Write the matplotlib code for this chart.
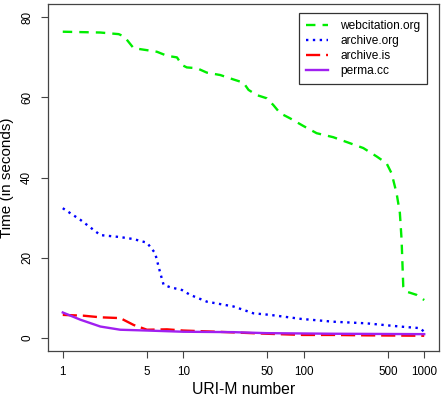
import matplotlib
matplotlib.use("Agg")
import matplotlib.pyplot as plt
import numpy as np

plt.rcParams['font.family'] = ['Liberation Sans', 'DejaVu Sans']

# URI-M number vs time (seconds)
web_x = [1, 2.05, 2.91, 3.24, 3.87, 5.0, 6.05, 7.33, 8.87, 9.76, 10.7, 13, 15.7, 20.3,
         26.1, 31.6, 34.8, 40.8, 49.4, 56, 63.6, 77.1, 99.3, 128, 176, 242, 312, 403,
         487, 536, 590, 628, 649, 670, 713, 863, 1000]
web_y = [76.4, 76.2, 75.8, 75.2, 72.3, 71.8, 71.4, 70.4, 70.0, 68.1, 67.5, 67.3, 66.2, 65.6,
         64.5, 63.7, 61.9, 60.6, 59.8, 58.1, 56.1, 54.8, 52.9, 51.1, 50.1, 48.6, 47.4, 45.3,
         43.6, 41.1, 36.1, 31.2, 24.5, 12.9, 11.6, 10.8, 9.5]

ia_x = [1, 1.40, 2.05, 3.0, 3.87, 5.0, 5.84, 6.45, 6.87, 7.78, 9.76, 11.4, 15.7, 26.1,
        38.2, 52.7, 95.1, 176, 331, 628, 920, 1000]
ia_y = [32.4, 29.5, 25.7, 25.2, 24.7, 23.8, 21.2, 16.2, 13.3, 12.7, 12.0, 10.8, 9.1, 7.9,
        6.2, 5.8, 4.8, 4.1, 3.7, 2.9, 2.5, 1.6]

ais_x = [1, 1.49, 2.05, 3.0, 3.87, 5.0, 7.33, 10, 19, 49.4, 99, 176, 331, 1000]
ais_y = [5.8, 5.6, 5.2, 5.0, 3.3, 2.1, 2.2, 1.9, 1.6, 1.1, 0.8, 0.8, 0.7, 0.6]

perma_x = [1, 1.40, 2.05, 3.0, 5, 10, 26, 49, 176, 1000]
perma_y = [6.4, 4.6, 2.9, 2.1, 1.9, 1.6, 1.5, 1.25, 1.1, 1.0]

xticks = [1, 5, 10, 50, 100, 500, 1000]
yticks = [0, 20, 40, 60, 80]

fig = plt.figure(figsize=(4.44, 4.04), dpi=100)
ax = fig.add_axes([0.1088, 0.1312, 0.8792, 0.8588])

lw = 1.7
ax.plot(web_x, web_y, color='#00ee00', lw=lw, dashes=(4, 3), label='webcitation.org')
ax.plot(ia_x, ia_y, color='blue', lw=lw, dashes=(1, 1.9), label='archive.org')
ax.plot(ais_x, ais_y, color='red', lw=lw, dashes=(6, 2.5), label='archive.is')
ax.plot(perma_x, perma_y, color='#a020f0', lw=lw, label='perma.cc')

ax.set_xscale('log')
span = np.log10(1000)
ax.set_xlim(10 ** (-0.04 * span), 10 ** (span * 1.04))
ax.set_ylim(-3.2, 83.3)
ax.set_xticks(xticks)
ax.set_xticklabels([str(t) for t in xticks])
ax.xaxis.set_minor_locator(matplotlib.ticker.NullLocator())
ax.set_yticks(yticks)
ax.tick_params(axis='both', labelsize=8.4, length=5, width=0.8, color='#444444')
ax.tick_params(axis='x', pad=6)
ax.tick_params(axis='y', labelrotation=90, pad=6)
for lab in ax.get_yticklabels():
    lab.set_va('center')

for s in ax.spines.values():
    s.set_color('#444444')
    s.set_linewidth(0.9)

ax.set_xlabel('URI-M number', fontsize=11.3, labelpad=3)
ax.set_ylabel('Time (in seconds)', fontsize=11, labelpad=5)

leg = ax.legend(loc='upper right', bbox_to_anchor=(0.971, 0.975), borderaxespad=0,
                fontsize=8.6, fancybox=False, edgecolor='#333333', framealpha=1,
                handlelength=1.85, handletextpad=1.0, labelspacing=0.25, borderpad=0.6)
leg.get_frame().set_linewidth(0.9)

fig.savefig('out.png', dpi=100)
